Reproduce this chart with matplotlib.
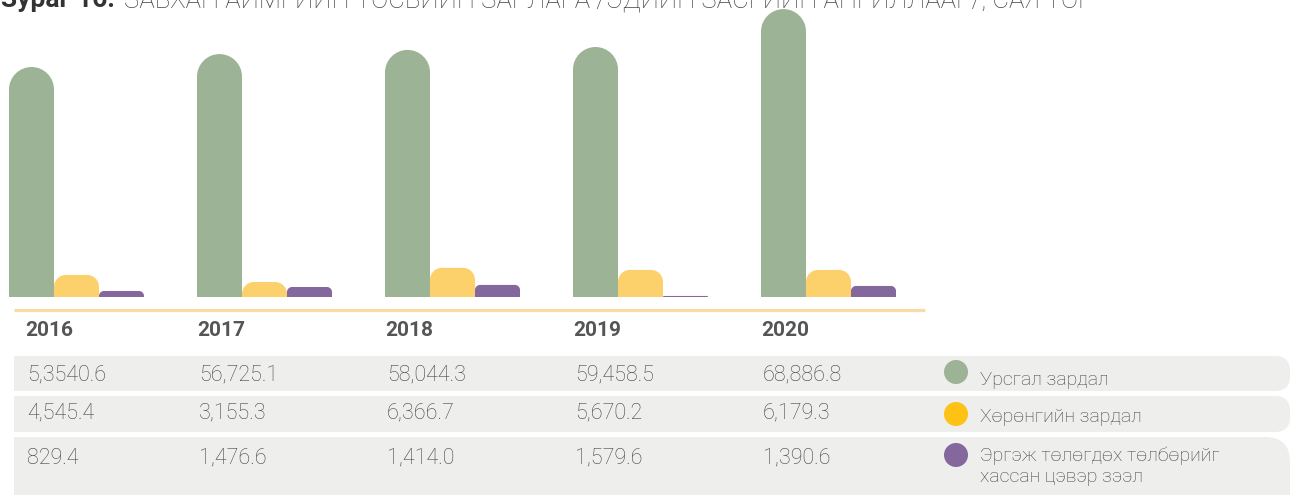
import matplotlib
matplotlib.use("Agg")
import matplotlib.pyplot as plt
from matplotlib.path import Path
from matplotlib.patches import PathPatch, FancyBboxPatch, Rectangle, Circle

# ------------------------------------------------------------------ #
# data
# ------------------------------------------------------------------ #
years = ["2016", "2017", "2018", "2019", "2020"]
# bar heights as drawn in the chart (сая төг)
current_exp = [55200, 58300, 59300, 60000, 69100]
capital_exp = [5300, 3600, 7000, 6500, 6500]
net_lending = [1450, 2400, 2900, 250, 2650]
# table text as printed under the bars
current_txt = ["5,3540.6", "56,725.1", "58,044.3", "59,458.5", "68,886.8"]
capital_txt = ["4,545.4", "3,155.3", "6,366.7", "5,670.2", "6,179.3"]
lending_txt = ["829.4", "1,476.6", "1,414.0", "1,579.6", "1,390.6"]
legend_labels = ["Урсгал зардал", "Хөрөнгийн зардал",
                 "Эргэж төлөгдөх төлбөрийг\nхассан цэвэр зээл"]

GREEN, YELLOW, PURPLE = "#9db396", "#fcd16b", "#84679d"
LEG_COLORS = [GREEN, "#fdc214", PURPLE]
ROW_BG = "#eeeeec"
TXT = "#555555"
NUM = "#444444"
FONT = ["Roboto", "DejaVu Sans"]

W, H = 1290, 495
fig = plt.figure(figsize=(W / 100, H / 100), dpi=100)

# pixel overlay for table / legend / title
ax_t = fig.add_axes([0, 0, 1, 1])
ax_t.set_xlim(0, W); ax_t.set_ylim(H, 0); ax_t.axis("off")

# bar axes: baseline at y=297px, 940px wide
BASE, AXW = 297, 940
ax = fig.add_axes([0, 1 - BASE / H, AXW / W, BASE / H])
ax.patch.set_alpha(0)
group_px, first_center = 188, 76.5
xmin = -first_center / group_px
xmax = xmin + AXW / group_px
ymax = 240 * BASE
ax.set_xlim(xmin, xmax); ax.set_ylim(0, ymax); ax.axis("off")
sx = (xmax - xmin) / AXW   # data per px (x)
sy = ymax / BASE           # data per px (y)

K = 0.5523


def round_top_bar(ax, xc, w, h, r_px, color):
    """bar with rounded top corners (radius in px, kept circular)."""
    h_px, w_px = h / sy, w / sx
    r = max(min(r_px, w_px / 2, h_px), 0.01)
    rx, ry = r * sx, r * sy
    x0, x1 = xc - w / 2, xc + w / 2
    verts = [(x0, 0), (x0, h - ry),
             (x0, h - ry + K * ry), (x0 + rx - K * rx, h), (x0 + rx, h),
             (x1 - rx, h),
             (x1 - rx + K * rx, h), (x1, h - ry + K * ry), (x1, h - ry),
             (x1, 0), (x0, 0)]
    codes = [Path.MOVETO, Path.LINETO, Path.CURVE4, Path.CURVE4, Path.CURVE4,
             Path.LINETO, Path.CURVE4, Path.CURVE4, Path.CURVE4,
             Path.LINETO, Path.CLOSEPOLY]
    ax.add_patch(PathPatch(Path(verts, codes), facecolor=color, edgecolor="none"))


bw = 45 / group_px
for i in range(len(years)):
    round_top_bar(ax, i - bw, bw, current_exp[i], 22.5, GREEN)
    round_top_bar(ax, i, bw, capital_exp[i], 12, YELLOW)
    round_top_bar(ax, i + bw, bw, net_lending[i], 5, PURPLE)

# orange rule under bars
ax_t.plot([14, 925], [310, 310], color="#f8dca4", lw=2.3, solid_capstyle="butt")

# title (cropped at top in the original)
ax_t.text(1, 7, "Зураг 16.", fontsize=19, fontweight="bold", color="#333333",
          family=FONT, va="baseline", ha="left")
ax_t.text(124, 7, "ЗАВХАН АЙМГИЙН ТӨСВИЙН ЗАРЛАГА /ЭДИЙН ЗАСГИЙН АНГИЛЛААР/, САЯ ТӨГ",
          fontsize=18.5, fontweight="light", color="#444444", family=FONT,
          va="baseline", ha="left")

# table rows
rows = [(356, 391, 15), (396, 432, 15), (437, 520, 25)]
for y0, y1, r in rows:
    ax_t.add_patch(FancyBboxPatch((14 + r, y0 + r), W - 14 - 2 * r, (y1 - y0) - 2 * r,
                                  boxstyle=f"round,pad={r}", facecolor=ROW_BG,
                                  edgecolor="none"))
    ax_t.add_patch(Rectangle((14, y0), 60, y1 - y0, facecolor=ROW_BG, edgecolor="none"))

col_x = [25, 197, 385, 573, 761]
for i, yr in enumerate(years):
    ax_t.text(col_x[i], 330, yr, fontsize=15, fontweight="bold", color=TXT,
              family=FONT, va="center", ha="left")
    for txts, yc in zip([current_txt, capital_txt, lending_txt], [375, 413, 458]):
        ax_t.text(col_x[i] + 2, yc, txts[i], fontsize=15.5, fontweight="light",
                  color=NUM, family=FONT, va="center", ha="left")

# legend
for lab, col, yc in zip(legend_labels, LEG_COLORS, [372, 414, 455]):
    ax_t.add_patch(Circle((956, yc), 12, facecolor=col, edgecolor="none"))
for lab, yc in zip(legend_labels[:2], [380, 417]):
    ax_t.text(980, yc, lab, fontsize=14, fontweight="light", color=NUM,
              family=FONT, va="center")
ax_t.text(980, 466, legend_labels[2], fontsize=14, fontweight="light", color=NUM,
          family=FONT, va="center", linespacing=1.2)

fig.savefig("out.png", dpi=100)
